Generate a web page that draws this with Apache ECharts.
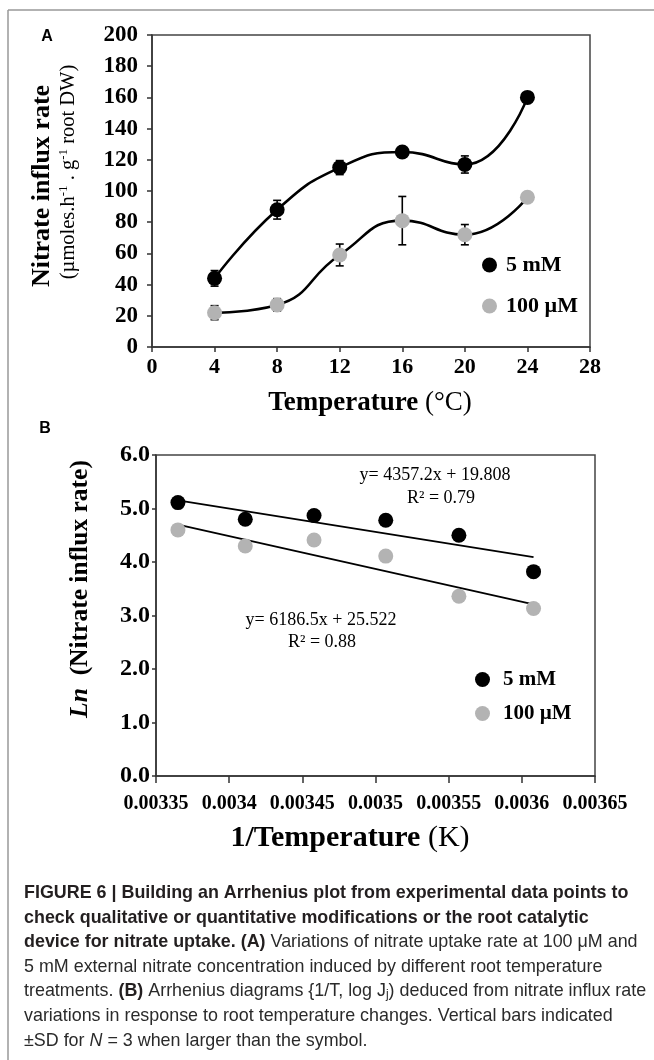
<!DOCTYPE html>
<html>
<head>
<meta charset="utf-8">
<script src="https://cdn.jsdelivr.net/npm/echarts@6/dist/echarts.min.js"></script>
<style>
  html, body { margin: 0; padding: 0; background: #fff; }
  #chart { width: 654px; height: 1060px; }
</style>
</head>
<body>
<div id="chart"></div>
<script>
// panel A: influx rate vs root temperature
const tempC = [4, 8, 12, 16, 20, 24];
const rate5mM = [44, 88, 115, 125, 117, 160];
const sd5mM = [5, 6, 4.5, 0, 5.5, 0];
const rate100uM = [22, 27, 59, 81, 72, 96];
const sd100uM = [4.5, 4, 7, 15.5, 6.5, 0];
const xTicksA = [0, 4, 8, 12, 16, 20, 24, 28];
const yTicksA = [0, 20, 40, 60, 80, 100, 120, 140, 160, 180, 200];

// panel B: Arrhenius plot
const invTemp = [0.003365, 0.003411, 0.003458, 0.003507, 0.003557, 0.003608];
const ln5mM = [5.11, 4.80, 4.87, 4.78, 4.50, 3.82];
const ln100uM = [4.60, 4.30, 4.41, 4.11, 3.36, 3.13];
const fitX = [0.003365, 0.003608];
const fit5mM = [5.15, 4.09];
const fit100uM = [4.70, 3.21];
const xTicksB = ['0.00335', '0.0034', '0.00345', '0.0035', '0.00355', '0.0036', '0.00365'];
const yTicksB = ['0.0', '1.0', '2.0', '3.0', '4.0', '5.0', '6.0'];

const seriesNames = ['5 mM', '100 µM'];
const SERIF = 'Liberation Serif, Times New Roman, serif';
const SANS = 'Liberation Sans, Arial, sans-serif';
const GREY = '#b3b3b3';

const pairs = (xs, ys) => xs.map((x, i) => [x, ys[i]]);

function axisBase(grid) {
  return {
    gridIndex: grid,
    type: 'value',
    axisLine: { show: true, onZero: false, lineStyle: { color: '#333', width: 1.5 } },
    axisTick: { show: true, length: 5, lineStyle: { color: '#333', width: 1.5 } },
    splitLine: { show: false },
    axisLabel: { fontFamily: SERIF, fontWeight: 'bold', color: '#000' }
  };
}

function errorBars(rates, sds) {
  return {
    type: 'custom',
    xAxisIndex: 0,
    yAxisIndex: 0,
    z: 2,
    silent: true,
    encode: { x: 0, y: 1 },
    data: tempC.map((t, i) => [t, rates[i], sds[i]]),
    renderItem: function (params, api) {
      const sd = api.value(2);
      if (!sd) return null;
      const x = api.value(0), y = api.value(1);
      const hi = api.coord([x, y + sd]);
      const lo = api.coord([x, y - sd]);
      const w = 4;
      const style = { stroke: '#000', lineWidth: 1.6 };
      return {
        type: 'group',
        children: [
          { type: 'line', shape: { x1: hi[0], y1: hi[1], x2: lo[0], y2: lo[1] }, style: style },
          { type: 'line', shape: { x1: hi[0] - w, y1: hi[1], x2: hi[0] + w, y2: hi[1] }, style: style },
          { type: 'line', shape: { x1: lo[0] - w, y1: lo[1], x2: lo[0] + w, y2: lo[1] }, style: style }
        ]
      };
    }
  };
}

function text(x, y, str, style, extra) {
  return Object.assign({
    type: 'text', x: x, y: y,
    style: Object.assign({ text: str, fill: '#000', textAlign: 'center', textVerticalAlign: 'middle' }, style)
  }, extra || {});
}

const captionLines = [
  '{b|FIGURE 6 | Building an Arrhenius plot from experimental data points to}',
  '{b|check qualitative or quantitative modifications or the root catalytic}',
  '{b|device for nitrate uptake. (A)} Variations of nitrate uptake rate at 100 μM and',
  '5 mM external nitrate concentration induced by different root temperature',
  'treatments. {b|(B)} Arrhenius diagrams {1/T, log J{sub|j}) deduced from nitrate influx rate',
  'variations in response to root temperature changes. Vertical bars indicated',
  '±SD for {i|N} = 3 when larger than the symbol.'
];

const CAP = 17.9;
const captionGraphics = captionLines.map((line, i) => ({
  type: 'text', x: 24, y: 893 + i * 24.6,
  style: {
    text: line, fill: '#2a2a2a', font: CAP + 'px ' + SANS,
    textAlign: 'left', textVerticalAlign: 'middle',
    rich: {
      b: { fontWeight: 'bold', fontSize: CAP, fontFamily: SANS, fill: '#231f20' },
      i: { fontStyle: 'italic', fontSize: CAP, fontFamily: SANS, fill: '#2a2a2a' },
      sub: { fontSize: 12, fontFamily: SANS, verticalAlign: 'bottom', fill: '#2a2a2a' }
    }
  }
}));

const chart = echarts.init(document.getElementById('chart'));

chart.setOption({
  animation: false,
  backgroundColor: '#fff',
  grid: [
    { left: 152, top: 35, width: 438, height: 312, show: true, borderColor: '#444', borderWidth: 1.5 },
    { left: 156, top: 455, width: 439, height: 321, show: true, borderColor: '#444', borderWidth: 1.5 }
  ],
  xAxis: [
    Object.assign(axisBase(0), {
      min: xTicksA[0], max: xTicksA[xTicksA.length - 1], interval: xTicksA[1] - xTicksA[0],
      axisLabel: Object.assign(axisBase(0).axisLabel, { fontSize: 22, margin: 9 })
    }),
    Object.assign(axisBase(1), {
      min: +xTicksB[0], max: +xTicksB[xTicksB.length - 1], interval: +xTicksB[1] - +xTicksB[0],
      axisTick: { show: true, length: 7, lineStyle: { color: '#333', width: 1.5 } },
      axisLabel: Object.assign(axisBase(1).axisLabel, {
        fontSize: 20, margin: 18,
        formatter: v => xTicksB[Math.round((v - +xTicksB[0]) / (+xTicksB[1] - +xTicksB[0]))]
      })
    })
  ],
  yAxis: [
    Object.assign(axisBase(0), {
      min: yTicksA[0], max: yTicksA[yTicksA.length - 1], interval: yTicksA[1] - yTicksA[0],
      axisLabel: Object.assign(axisBase(0).axisLabel, { fontSize: 23, margin: 14 })
    }),
    Object.assign(axisBase(1), {
      min: +yTicksB[0], max: +yTicksB[yTicksB.length - 1], interval: 1,
      axisTick: { show: true, length: 4, lineStyle: { color: '#333', width: 1.5 } },
      axisLabel: Object.assign(axisBase(1).axisLabel, {
        fontSize: 24, margin: 6,
        formatter: v => yTicksB[Math.round(v)]
      })
    })
  ],
  legend: [
    {
      data: seriesNames, orient: 'vertical', left: 477, top: 249,
      icon: 'circle', itemWidth: 15, itemHeight: 15, itemGap: 19, selectedMode: false,
      textStyle: { fontFamily: SERIF, fontWeight: 'bold', fontSize: 22, color: '#000', padding: [0, 0, 0, 4] }
    },
    {
      data: seriesNames, orient: 'vertical', left: 470, top: 664,
      icon: 'circle', itemWidth: 15, itemHeight: 15, itemGap: 13, selectedMode: false,
      textStyle: { fontFamily: SERIF, fontWeight: 'bold', fontSize: 21, color: '#000', padding: [0, 0, 0, 8] }
    }
  ],
  series: [
    // panel A curves
    { type: 'line', name: 'curve 5 mM', xAxisIndex: 0, yAxisIndex: 0, smooth: 0.5, symbol: 'none', z: 1,
      data: pairs(tempC, rate5mM), lineStyle: { color: '#000', width: 2.6 } },
    { type: 'line', name: 'curve 100 µM', xAxisIndex: 0, yAxisIndex: 0, smooth: 0.5, symbol: 'none', z: 1,
      data: pairs(tempC, rate100uM), lineStyle: { color: '#000', width: 2.6 } },
    errorBars(rate5mM, sd5mM),
    errorBars(rate100uM, sd100uM),
    { type: 'scatter', name: seriesNames[0], xAxisIndex: 0, yAxisIndex: 0, symbolSize: 15, z: 3,
      data: pairs(tempC, rate5mM), itemStyle: { color: '#000', opacity: 1 } },
    { type: 'scatter', name: seriesNames[1], xAxisIndex: 0, yAxisIndex: 0, symbolSize: 15, z: 3,
      data: pairs(tempC, rate100uM), itemStyle: { color: GREY, opacity: 1 } },
    // panel B
    { type: 'line', name: 'fit 5 mM', xAxisIndex: 1, yAxisIndex: 1, symbol: 'none', z: 1,
      data: pairs(fitX, fit5mM), lineStyle: { color: '#000', width: 1.8 } },
    { type: 'line', name: 'fit 100 µM', xAxisIndex: 1, yAxisIndex: 1, symbol: 'none', z: 1,
      data: pairs(fitX, fit100uM), lineStyle: { color: '#000', width: 1.8 } },
    { type: 'scatter', name: seriesNames[0], xAxisIndex: 1, yAxisIndex: 1, symbolSize: 15, z: 3,
      data: pairs(invTemp, ln5mM), itemStyle: { color: '#000', opacity: 1 } },
    { type: 'scatter', name: seriesNames[1], xAxisIndex: 1, yAxisIndex: 1, symbolSize: 15, z: 3,
      data: pairs(invTemp, ln100uM), itemStyle: { color: GREY, opacity: 1 } }
  ],
  graphic: [
    // outer frame (top and left only)
    { type: 'line', shape: { x1: 8, y1: 10, x2: 654, y2: 10 }, style: { stroke: '#999', lineWidth: 1.5 } },
    { type: 'line', shape: { x1: 8, y1: 10, x2: 8, y2: 1060 }, style: { stroke: '#999', lineWidth: 1.5 } },
    text(47, 37, 'A', { font: 'bold 16px ' + SANS }),
    text(45, 429, 'B', { font: 'bold 16px ' + SANS }),
    // panel A axis titles
    text(42, 186, 'Nitrate influx rate', { font: 'bold 26px ' + SERIF }, { rotation: Math.PI / 2 }),
    text(69, 172, '(µmoles.h{sup|-1} . g{sup|-1} root DW)', {
      font: '20.5px ' + SERIF, lineHeight: 24,
      rich: { sup: { fontSize: 13, fontFamily: SERIF, verticalAlign: 'top', fill: '#000' } }
    }, { rotation: Math.PI / 2 }),
    text(370, 403, '{b|Temperature} (°C)', {
      font: '27px ' + SERIF,
      rich: { b: { fontWeight: 'bold', fontSize: 27, fontFamily: SERIF, fill: '#000' } }
    }),
    // panel B axis titles
    text(80, 589, '{i|Ln}  (Nitrate influx rate)', {
      font: 'bold 25.5px ' + SERIF,
      rich: { i: { fontStyle: 'italic', fontWeight: 'bold', fontSize: 25.5, fontFamily: SERIF, fill: '#000' } }
    }, { rotation: Math.PI / 2 }),
    text(350, 838, '{b|1/Temperature} (K)', {
      font: '30px ' + SERIF,
      rich: { b: { fontWeight: 'bold', fontSize: 30, fontFamily: SERIF, fill: '#000' } }
    }),
    // regression annotations
    text(435, 475, 'y= 4357.2x + 19.808', { font: '18px ' + SERIF }),
    text(441, 498, 'R² = 0.79', { font: '18px ' + SERIF }),
    text(321, 620, 'y= 6186.5x + 25.522', { font: '18px ' + SERIF }),
    text(322, 642, 'R² = 0.88', { font: '18px ' + SERIF })
  ].concat(captionGraphics)
});
</script>
</body>
</html>
